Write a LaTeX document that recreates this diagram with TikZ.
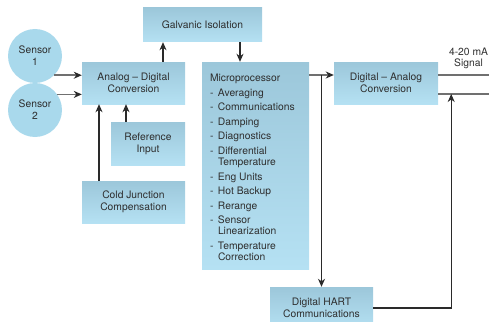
\documentclass[tikz,border=0pt]{standalone}
\usepackage{fontspec}
\setmainfont{TeX Gyre Heros}
\usetikzlibrary{
	arrows.meta,positioning,calc
}
\definecolor{boxtop}{HTML}{9CC7DA}
\definecolor{boxbottom}{HTML}{B5E1F3}
\definecolor{sensorfill}{HTML}{A9D9EC}
\definecolor{wire}{HTML}{2A2A2A}
\definecolor{hwire}{HTML}{707070}
\definecolor{ink}{HTML}{2E2E2E}
\newcommand{\mpdash}{\makebox[8pt][l]{-}}
\tikzset{
	auto,
	unit/.style={
		rectangle, inner sep=0pt, text=ink, align=center,
		font=\fontsize{10.3}{12}\selectfont,
		top color=boxtop, bottom color=boxbottom
	},
	%
	sensor/.style={
		circle, minimum size=54pt, inner sep=0pt, text=ink, align=center,
		font=\fontsize{10.3}{12}\selectfont, fill=sensorfill
	},
	%
	labeltext/.style={
		text=ink, align=center, inner sep=0pt,
		font=\fontsize{10.3}{11}\selectfont
	},
	%
	wireline/.style={
		draw=wire, line width=1.2pt
	},
	%
	hwireline/.style={
		draw=hwire, line width=1.6pt
	}
}

\begin{document}
\begin{tikzpicture}[x=1pt, y=-1pt, >={Stealth[length=8pt,width=7pt,inset=2.5pt,color=wire]}]
    \useasboundingbox (0,0) rectangle (489,321);
    \coordinate(edge) at (489,0);
    \node(S1)[sensor] at (35,56){Sensor\\1};
    \node(S2)[sensor] at (35,110){Sensor\\2};
    \node(AD)[unit, minimum width=103pt, minimum height=42pt] at (133.5,83){Analog -- Digital\\Conversion};
    \node(GI)[unit, minimum width=119pt, minimum height=34pt] at (202.5,25){Galvanic Isolation};
    \node(RI)[unit, minimum width=74pt, minimum height=43pt] at (148,143.5){Reference\\Input};
    \node(CJ)[unit, minimum width=103pt, minimum height=42pt] at (133.5,202){Cold Junction\\Compensation};
    \node(MP)[unit, inner xsep=8pt, inner ysep=12pt, align=left] at (255.5,165.5){%
      \parbox[c][183pt][t]{91pt}{\raggedright\fontsize{10.3}{11}\selectfont
        Microprocessor\\[3.6pt]
        \mpdash Averaging\\[3.6pt]
        \mpdash Communications\\[3.6pt]
        \mpdash Damping\\[3.6pt]
        \mpdash Diagnostics\\[3.6pt]
        \mpdash Differential\\
        \hspace*{8pt}Temperature\\[3.6pt]
        \mpdash Eng Units\\[3.6pt]
        \mpdash Hot Backup\\[3.6pt]
        \mpdash Rerange\\[3.6pt]
        \mpdash Sensor\\
        \hspace*{8pt}Linearization\\[3.6pt]
        \mpdash Temperature\\
        \hspace*{8pt}Correction}};
    \node(DA)[unit, minimum width=104pt, minimum height=42pt] at (386,83){Digital -- Analog\\Conversion};
    \node(HC)[unit, minimum width=103pt, minimum height=42pt] at (321.5,308){Digital HART\\Communications};
    \node(SG)[labeltext] at (468.5,58){4-20 mA\\Signal};
    % inputs to the converter
    \draw[->, hwireline] (S1.-45) -- (S1.-45 -| AD.west);
    \draw[->, hwireline] (S2.35) -- (S2.35 -| AD.west);
    \draw[->, wireline] ([xshift=-22pt]RI.north) -- ([xshift=-22pt]RI.north |- AD.south);
    \draw[->, wireline] ([xshift=-34.5pt]CJ.north) -- ([xshift=-34.5pt]CJ.north |- AD.south);
    % through the isolation
    \draw[->, wireline] ([xshift=29.5pt]AD.north) -- ([xshift=29.5pt]AD.north |- GI.south);
    \draw[->, wireline] ([xshift=37.5pt]GI.south) -- ([xshift=37.5pt]GI.south |- MP.north);
    % outputs
    \coordinate(DAhi) at ([yshift=8pt]DA.west);
    \coordinate(DAlo) at ([yshift=-11pt]DA.east);
    \draw[->, hwireline] (MP.east |- DAhi) -- (DAhi);
    \draw[->, wireline] (HC.north |- DAhi) -- (HC.north);
    \draw[hwireline] (DA.east |- DAhi) -- (DAhi -| edge);
    \draw[hwireline] (DAlo) -- (DAlo -| edge);
    \draw[->, wireline] (HC.east) -| ([xshift=13pt]DAlo);
\end{tikzpicture}
\end{document}
